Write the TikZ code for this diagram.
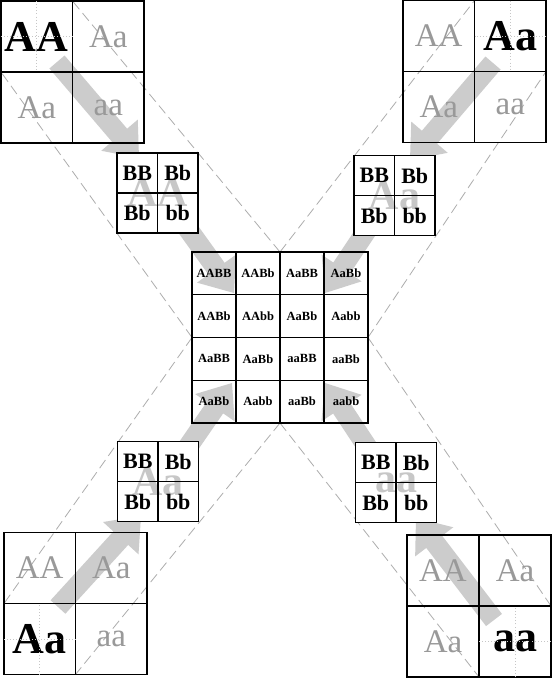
\documentclass[tikz,border=0pt]{standalone}
\usepackage{fontspec}
\setmainfont{Liberation Serif}
\usetikzlibrary{calc}
\definecolor{arrowgrey}{gray}{0.8}
\definecolor{fadegrey}{gray}{0.6}
\definecolor{ghostgrey}{gray}{0.78}
\definecolor{dashgrey}{gray}{0.68}
\newcommand{\fatarrow}[2]{%
  \coordinate (hb) at ($(#2)!30pt!(#1)$);
  \fill[arrowgrey] ($(#1)!10pt!90:(#2)$) -- ($(hb)!10pt!-90:(#1)$) -- ($(hb)!24pt!-90:(#1)$) -- (#2)
     -- ($(hb)!24pt!90:(#1)$) -- ($(hb)!10pt!90:(#1)$) -- ($(#1)!10pt!-90:(#2)$) -- cycle;}
\begin{document}
\begin{tikzpicture}[x=1pt,y=-1pt,
  box/.style={rectangle, inner sep=0pt, outer sep=0pt},
  thickline/.style={line width=1.8pt},
  thinline/.style={line width=1.1pt},
  dashline/.style={dashgrey, line width=0.8pt, dash pattern=on 10pt off 5pt},
  dotline/.style={gray!45, line width=0.9pt, dash pattern=on 0.9pt off 2.2pt},
  fade/.style={inner sep=0pt, text=fadegrey, font=\fontsize{33}{33}\selectfont},
  boldbig/.style={inner sep=0pt, font=\fontsize{44}{44}\selectfont\bfseries},
  ghost/.style={inner sep=0pt, text=ghostgrey, font=\fontsize{42}{42}\selectfont\bfseries},
  smalltxt/.style={inner sep=0pt, font=\fontsize{22}{22}\selectfont\bfseries},
  tinytxt/.style={inner sep=0pt, font=\fontsize{12.5}{12.5}\selectfont\bfseries}
]
\useasboundingbox (0,0) rectangle (553,678);
\fill[white] (0,0) rectangle (553,678);

% grid frames (placed, drawn later)
\path (72.5,72)    node[box, minimum width=143pt, minimum height=142pt] (tl) {};
\path (474.5,71.5) node[box, minimum width=143pt, minimum height=142pt] (tr) {};
\path (75.5,603.5) node[box, minimum width=143pt, minimum height=142pt] (bl) {};
\path (479,606)    node[box, minimum width=144pt, minimum height=142pt] (br) {};
\path (157.5,193)  node[box, minimum width=81pt, minimum height=80pt] (stl) {};
\path (394.5,195.5) node[box, minimum width=81pt, minimum height=80pt] (str) {};
\path (158,481.5)  node[box, minimum width=81pt, minimum height=80pt] (sbl) {};
\path (396,482.5)  node[box, minimum width=81pt, minimum height=80pt] (sbr) {};
\path (280,337.5)  node[box, minimum width=176pt, minimum height=171pt] (c) {};

% dashed guide lines
\draw[dashline] (c.north) -- (tl.north);
\draw[dashline] (c.west) -- (tl.west);
\draw[dashline] (c.north) -- (tr.north);
\draw[dashline] (c.east) -- (tr.east);
\draw[dashline] (c.west) -- (bl.west);
\draw[dashline] (c.south) -- (bl.south);
\draw[dashline] (c.east) -- (br.east);
\draw[dashline] (c.south) -- (br.south);

% arrows
\coordinate (a1s) at (57,62);   \coordinate (a1t) at (139,158);
\coordinate (a2s) at (165,197); \coordinate (a2t) at (234,293);
\coordinate (b1s) at (493,63);  \coordinate (b1t) at (410,160);
\coordinate (b2s) at (389,197); \coordinate (b2t) at (325,293);
\coordinate (c1s) at (58,607);  \coordinate (c1t) at (141,516);
\coordinate (c2s) at (165,480); \coordinate (c2t) at (232,383);
\coordinate (d1s) at (494,620); \coordinate (d1t) at (416,518);
\coordinate (d2s) at (389,480); \coordinate (d2t) at (325,383);
\fatarrow{a1s}{a1t}
\fatarrow{a2s}{a2t}
\fatarrow{b1s}{b1t}
\fatarrow{b2s}{b2t}
\fatarrow{c1s}{c1t}
\fatarrow{c2s}{c2t}
\fatarrow{d1s}{d1t}
\fatarrow{d2s}{d2t}

% small grids: white fill and ghost letters
\foreach \g in {stl,str,sbl,sbr} {\fill[white] (\g.north west) rectangle (\g.south east);}
\node[ghost] (gstl) at (stl.center) {AA};
\node[ghost] (gstr) at (str.center) {Aa};
\node[ghost] (gsbl) at (sbl.center) {Aa};
\node[ghost] (gsbr) at (sbr.center) {aa};

% big grid texts
\node[boldbig] (tl1) at ($(tl.north west)!0.25!(tl.south east)$) {AA};
\node[fade]    (tl2) at ($(tl.north east)!0.25!(tl.south west)$) {Aa};
\node[fade]    (tl3) at ($(tl.south west)!0.25!(tl.north east)$) {Aa};
\node[fade]    (tl4) at ($(tl.south east)!0.25!(tl.north west)$) {aa};

\node[fade]    (tr1) at ($(tr.north west)!0.25!(tr.south east)$) {AA};
\node[boldbig] (tr2) at ($(tr.north east)!0.25!(tr.south west)$) {Aa};
\node[fade]    (tr3) at ($(tr.south west)!0.25!(tr.north east)$) {Aa};
\node[fade]    (tr4) at ($(tr.south east)!0.25!(tr.north west)$) {aa};

\node[fade]    (bl1) at ($(bl.north west)!0.25!(bl.south east)$) {AA};
\node[fade]    (bl2) at ($(bl.north east)!0.25!(bl.south west)$) {Aa};
\node[boldbig] (bl3) at ($(bl.south west)!0.25!(bl.north east)$) {Aa};
\node[fade]    (bl4) at ($(bl.south east)!0.25!(bl.north west)$) {aa};

\node[fade]    (br1) at ($(br.north west)!0.25!(br.south east)$) {AA};
\node[fade]    (br2) at ($(br.north east)!0.25!(br.south west)$) {Aa};
\node[fade]    (br3) at ($(br.south west)!0.25!(br.north east)$) {Aa};
\node[boldbig] (br4) at ($(br.south east)!0.25!(br.north west)$) {aa};

% grid lines of 2x2 grids
\foreach \g in {tl,tr,bl,br,stl,str,sbl,sbr} {
  \draw[thinline] (\g.north) -- (\g.south) (\g.west) -- (\g.east);
  \draw[thickline] (\g.north west) rectangle (\g.south east);
}

% small grid texts
\foreach \g in {stl,str,sbl,sbr} {
  \node[smalltxt] (\g1) at ($(\g.north west)!0.25!(\g.south east)$) {BB};
  \node[smalltxt] (\g2) at ($(\g.north east)!0.25!(\g.south west)$) {Bb};
  \node[smalltxt] (\g3) at ($(\g.south west)!0.25!(\g.north east)$) {Bb};
  \node[smalltxt] (\g4) at ($(\g.south east)!0.25!(\g.north west)$) {bb};
}

% centre grid
\draw[thinline] ($(c.north west)!0.25!(c.north east)$) -- ($(c.south west)!0.25!(c.south east)$);
\draw[thinline] ($(c.north west)!0.75!(c.north east)$) -- ($(c.south west)!0.75!(c.south east)$);
\draw[thinline] ($(c.north west)!0.25!(c.south west)$) -- ($(c.north east)!0.25!(c.south east)$);
\draw[thinline] ($(c.north west)!0.75!(c.south west)$) -- ($(c.north east)!0.75!(c.south east)$);
\draw[thickline] (c.north) -- (c.south) (c.west) -- (c.east);
\draw[thickline] (c.north west) rectangle (c.south east);

\foreach \t [count=\i from 0] in {AABB,AABb,AaBB,AaBb,AABb,AAbb,AaBb,Aabb,AaBB,AaBb,aaBB,aaBb,AaBb,Aabb,aaBb,aabb} {
  \pgfmathsetmacro{\cx}{192+44*(mod(\i,4)+0.5)}
  \pgfmathsetmacro{\cy}{252+42.75*(floor(\i/4)+0.5)}
  \node[tinytxt] (cc\i) at (\cx,\cy) {\t};
}

% dotted crosses in the bold cells
\draw[dotline] ($(tl.north west)!0.5!(tl.north)$) -- ($(tl.west)!0.5!(tl.center)$);
\draw[dotline] ($(tl.north west)!0.5!(tl.west)$) -- ($(tl.north)!0.5!(tl.center)$);
\draw[dotline] ($(tr.north east)!0.5!(tr.north)$) -- ($(tr.east)!0.5!(tr.center)$);
\draw[dotline] ($(tr.north east)!0.5!(tr.east)$) -- ($(tr.north)!0.5!(tr.center)$);
\draw[dotline] ($(bl.south west)!0.5!(bl.south)$) -- ($(bl.west)!0.5!(bl.center)$);
\draw[dotline] ($(bl.south west)!0.5!(bl.west)$) -- ($(bl.south)!0.5!(bl.center)$);
\draw[dotline] ($(br.south east)!0.5!(br.south)$) -- ($(br.east)!0.5!(br.center)$);
\draw[dotline] ($(br.south east)!0.5!(br.east)$) -- ($(br.south)!0.5!(br.center)$);
\end{tikzpicture}
\end{document}
